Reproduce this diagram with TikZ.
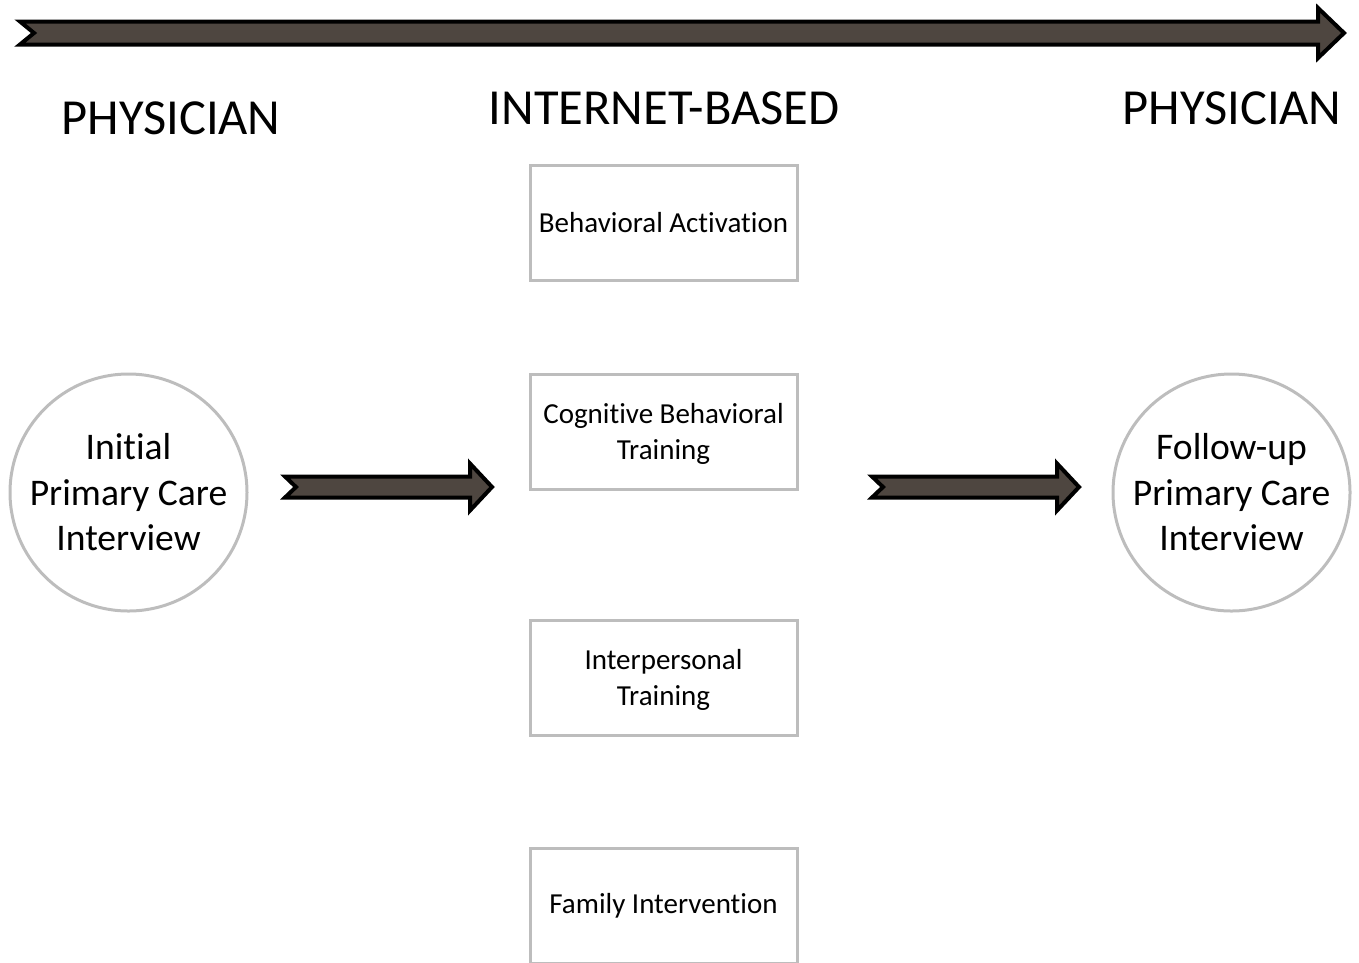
\documentclass[tikz,border=0pt]{standalone}
\usepackage{fontspec}
\setmainfont{Carlito}[Ligatures={NoCommon}]
\definecolor{arrowfill}{HTML}{4E4640}
\definecolor{rimgray}{HTML}{BDBDBD}
\newcommand{\blkarrow}[7]{% x0, x1, y, body half, head half, head base, notch
  \filldraw[blockarrow] (#1,#3-#4) -- (#6,#3-#4) -- (#6,#3-#5) -- (#2,#3)
    -- (#6,#3+#5) -- (#6,#3+#4) -- (#1,#3+#4) -- ({#1+#7},#3) -- cycle;}
\tikzset{
  blockarrow/.style={fill=arrowfill, draw=black, line width=4pt, line join=miter},
  stagebox/.style={draw=rimgray, line width=3pt, fill=white, minimum width=267,
    minimum height=115, inner sep=0pt, align=center,
    font=\fontsize{29}{36}\selectfont},
  visit/.style={circle, draw=rimgray, line width=3pt, minimum size=237,
    inner sep=0pt, align=center, font=\fontsize{37.6}{45.5}\selectfont},
  header/.style={font=\fontsize{50.5}{60}\selectfont, inner sep=0pt}
}
\begin{document}
\begin{tikzpicture}[x=1pt,y=-1pt]
\useasboundingbox (0,0) rectangle (1359,962);

% timeline arrow across the top
\blkarrow{20}{1344}{33}{11.5}{25}{1318}{14}

% phase headings
\node[header] (hleft) at (171,118) {PHYSICIAN};
\node[header] (hmid) at (664,108) {INTERNET-BASED};
\node[header] (hright) at (1232,108) {PHYSICIAN};

% online modules
\node[stagebox] (ba) at (663.5,222.5) {Behavioral Activation};
\node[stagebox] (cbt) at (663.5,431.5) {\strut Cognitive Behavioral\\Training};
\node[stagebox] (ipt) at (663.5,677.5) {\strut Interpersonal\\Training};
\node[stagebox] (fam) at (663.5,905.5) {\raisebox{-2pt}{Family Intervention}};

% physician visits
\node[visit] (init) at (128.5,492.5) {Initial\\Primary Care\\Interview};
\node[visit] (follow) at (1231.5,492.5) {Follow-up\\Primary Care\\Interview};

% transitions between phases
\blkarrow{285}{492}{487}{10.5}{23.5}{470}{11}
\blkarrow{872}{1079}{487}{10.5}{23.5}{1057}{11}
\end{tikzpicture}
\end{document}
